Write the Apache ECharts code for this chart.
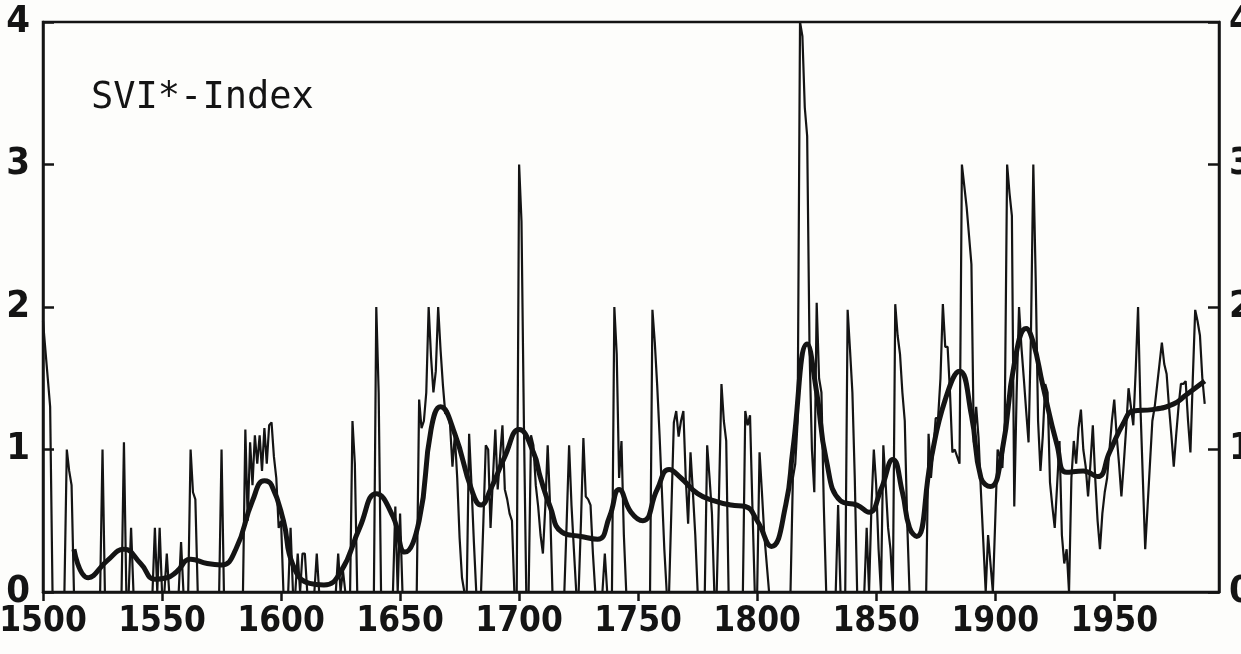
<!DOCTYPE html>
<html>
<head>
<meta charset="utf-8">
<script src="https://cdn.jsdelivr.net/npm/echarts@6/dist/echarts.min.js"></script>
<style>
  html, body { margin: 0; padding: 0; background: #fdfdfb; }
  #chart { width: 1241px; height: 654px; }
</style>
</head>
<body>
<div id="chart"></div>
<script>
// SVI*-Index, annual values from 1500 (one row per decade)
var startYear = 1500;
var sviValues = [
    1.9, 1.7, 1.5, 1.3, 0, 0, 0, 0, 0, 0,
    1.0, 0.85, 0.75, 0, 0, 0, 0, 0, 0, 0,
    0, 0, 0, 0, 0, 1.0, 0, 0, 0, 0,
    0, 0, 0, 0, 1.05, 0, 0, 0.45, 0, 0,
    0, 0, 0, 0, 0, 0, 0, 0.45, 0, 0.45,
    0, 0, 0.27, 0, 0, 0, 0, 0, 0.35, 0,
    0, 0, 1.0, 0.7, 0.65, 0, 0, 0, 0, 0,
    0, 0, 0, 0, 0, 1.0, 0, 0, 0, 0,
    0, 0, 0, 0, 0, 1.14, 0.5, 1.05, 0.75, 1.1,
    0.9, 1.1, 0.85, 1.15, 0.9, 1.17, 1.19, 0.95, 0.8, 0.45,
    0.5, 0, 0, 0, 0.45, 0, 0, 0.27, 0, 0.27,
    0.27, 0, 0, 0, 0, 0.27, 0, 0, 0, 0,
    0, 0, 0, 0, 0.27, 0, 0.15, 0, 0, 0,
    1.2, 0.9, 0, 0, 0, 0, 0, 0, 0, 0,
    2.0, 1.4, 0, 0, 0, 0, 0, 0, 0.6, 0,
    0.55, 0, 0, 0, 0, 0, 0, 0, 1.35, 1.15,
    1.2, 1.4, 2.0, 1.65, 1.4, 1.55, 2.0, 1.7, 1.45, 1.25,
    1.27, 1.17, 0.88, 1.1, 0.8, 0.38, 0.1, 0, 0, 1.11,
    0.75, 0.35, 0, 0, 0, 0.5, 1.03, 1.0, 0.45, 0.8,
    1.14, 0.72, 0.95, 1.17, 0.72, 0.65, 0.55, 0.5, 0, 0,
    3.0, 2.6, 1.2, 0, 0, 1.1, 1.03, 0.75, 0.6, 0.4,
    0.27, 0.6, 1.03, 0.61, 0, 0, 0, 0, 0, 0,
    0.5, 1.03, 0.61, 0.3, 0, 0, 0.5, 1.08, 0.67, 0.65,
    0.61, 0.27, 0, 0, 0, 0, 0.27, 0, 0, 0,
    2.0, 1.67, 0.8, 1.06, 0.4, 0, 0, 0, 0, 0,
    0, 0, 0, 0, 0, 0, 1.98, 1.75, 1.45, 1.1,
    0.7, 0.3, 0, 0, 0.6, 1.19, 1.27, 1.09, 1.2, 1.27,
    0.8, 0.48, 0.98, 0.7, 0.4, 0, 0, 0, 0, 1.03,
    0.8, 0.55, 0, 0, 0.7, 1.46, 1.2, 1.06, 0, 0,
    0, 0, 0, 0, 0, 1.27, 1.17, 1.24, 0.6, 0,
    0, 0.98, 0.7, 0.4, 0.2, 0, 0, 0, 0, 0,
    0, 0, 0, 0, 0, 0.8, 0.9, 1.2, 4.0, 3.9,
    3.4, 3.2, 1.7, 1.0, 0.7, 2.03, 1.5, 1.4, 0.6, 0,
    0, 0, 0, 0, 0.61, 0, 0, 0, 1.98, 1.7,
    1.4, 0.8, 0, 0, 0, 0, 0.45, 0, 0.6, 1.0,
    0.75, 0.3, 0, 1.03, 0.75, 0.45, 0.3, 0, 2.02, 1.8,
    1.67, 1.4, 1.2, 0.5, 0, 0, 0, 0, 0, 0,
    0, 0, 1.11, 0.8, 1.0, 1.22, 1.22, 1.5, 2.02, 1.72,
    1.72, 1.4, 0.98, 1.0, 0.95, 0.9, 3.0, 2.85, 2.7, 2.5,
    2.3, 1.05, 1.3, 1.08, 0.7, 0.35, 0, 0.4, 0.2, 0,
    0.5, 1.0, 0.95, 0.87, 1.2, 3.0, 2.8, 2.64, 0.6, 1.4,
    2.0, 1.72, 1.5, 1.27, 1.05, 1.8, 3.0, 2.2, 1.2, 0.85,
    1.1, 1.46, 1.4, 0.77, 0.6, 0.45, 0.75, 1.06, 0.4, 0.2,
    0.3, 0, 0.8, 1.06, 0.9, 1.15, 1.28, 1.0, 0.88, 0.67,
    0.9, 1.17, 0.8, 0.5, 0.3, 0.55, 0.7, 0.8, 1.0, 1.2,
    1.35, 1.1, 0.9, 0.67, 0.9, 1.15, 1.43, 1.3, 1.17, 1.55,
    2.0, 1.3, 0.8, 0.3, 0.6, 0.9, 1.2, 1.3, 1.45, 1.6,
    1.75, 1.6, 1.53, 1.3, 1.1, 0.88, 1.1, 1.3, 1.46, 1.46,
    1.48, 1.2, 0.98, 1.5, 1.98, 1.9, 1.8, 1.5, 1.32
];

// smoothed curve, read at its turning points
var smoothYears = [1513, 1519, 1527, 1534, 1541, 1547, 1552, 1556, 1562, 1569,
    1575, 1581, 1588, 1593, 1596, 1601, 1605, 1612, 1618, 1625,
    1633, 1640, 1647, 1652, 1658, 1663, 1667, 1673, 1680, 1684,
    1688, 1694, 1700, 1706, 1709, 1713, 1718, 1726, 1733, 1738,
    1742, 1747, 1752, 1758, 1763, 1768, 1775, 1782, 1789, 1795,
    1800, 1806, 1812, 1815, 1821, 1825, 1829, 1835, 1842, 1847,
    1852, 1857, 1861, 1864, 1867, 1873, 1879, 1885, 1890, 1894,
    1898, 1903, 1908, 1913, 1916, 1920, 1926, 1930, 1937, 1943,
    1948, 1954, 1958, 1966, 1975, 1980, 1988];
var smoothValues = [0.3, 0.1, 0.22, 0.3, 0.2, 0.09, 0.1, 0.14, 0.23, 0.2,
    0.19, 0.3, 0.64, 0.78, 0.75, 0.5, 0.19, 0.06, 0.05, 0.14,
    0.45, 0.69, 0.53, 0.28, 0.5, 1.14, 1.3, 1.11, 0.72, 0.61,
    0.72, 0.95, 1.14, 0.98, 0.8, 0.6, 0.42, 0.39, 0.37, 0.53,
    0.72, 0.56, 0.5, 0.72, 0.86, 0.8, 0.69, 0.64, 0.61, 0.6,
    0.5, 0.32, 0.61, 1.0, 1.74, 1.4, 0.93, 0.64, 0.61, 0.56,
    0.72, 0.93, 0.7, 0.45, 0.39, 0.93, 1.35, 1.55, 1.24, 0.8,
    0.74, 1.0, 1.6, 1.85, 1.75, 1.45, 1.03, 0.84, 0.85, 0.81,
    0.98, 1.19, 1.27, 1.28, 1.32, 1.38, 1.48];

var yTicks = [0, 1, 2, 3, 4];

var sviData = sviValues.map(function (v, i) { return [startYear + i, v]; });
var smoothData = smoothYears.map(function (y, i) { return [y, smoothValues[i]]; });

var chart = echarts.init(document.getElementById('chart'), null, {renderer: 'canvas'});

var ink = '#141414';
var labelFont = '"Liberation Sans Narrow", "DejaVu Sans Condensed", "Liberation Sans", sans-serif';

function yAxisDef(pos, margin) {
    return {
        type: 'value',
        position: pos,
        min: yTicks[0],
        max: yTicks[yTicks.length - 1],
        interval: 1,
        axisLine: {show: true, lineStyle: {color: ink, width: 2.5}},
        axisTick: {show: true, inside: true, length: 11, lineStyle: {color: ink, width: 2.5}},
        axisLabel: {
            show: true, margin: margin, color: ink,
            fontFamily: labelFont, fontSize: 38, fontWeight: 'bold'
        },
        splitLine: {show: false}
    };
}

var option = {
    backgroundColor: '#fdfdfb',
    animation: false,
    title: {
        text: 'SVI*-Index',
        left: 86,
        top: 75,
        textStyle: {
            fontFamily: '"DejaVu Sans Mono", "Liberation Mono", monospace',
            fontSize: 37,
            fontWeight: 'normal',
            color: ink
        }
    },
    grid: {
        left: 43,
        right: 22,
        top: 22,
        bottom: 62,
        containLabel: false,
        outerBoundsMode: 'none',
        show: true,
        borderColor: ink,
        borderWidth: 2.5,
        backgroundColor: 'transparent'
    },
    xAxis: {
        type: 'value',
        min: 1500,
        max: 1994,
        interval: 50,
        axisLine: {show: true, onZero: false, lineStyle: {color: ink, width: 2.5}},
        axisTick: {show: true, inside: false, length: 9, lineStyle: {color: ink, width: 2.5}},
        axisLabel: {
            color: ink, fontFamily: labelFont, fontSize: 35, fontWeight: 'bold', margin: 12,
            showMaxLabel: false,
            formatter: function (v) { return String(v); }
        },
        splitLine: {show: false}
    },
    yAxis: [yAxisDef('left', 13), yAxisDef('right', 10)],
    series: [
        {
            name: 'SVI',
            type: 'line',
            data: sviData,
            symbol: 'none',
            smooth: false,
            lineStyle: {color: ink, width: 2.2},
            z: 3
        },
        {
            name: 'smoothed',
            type: 'line',
            data: smoothData,
            symbol: 'none',
            smooth: 0.5,
            lineStyle: {color: ink, width: 5},
            z: 4
        }
    ]
};

chart.setOption(option);
</script>
</body>
</html>
